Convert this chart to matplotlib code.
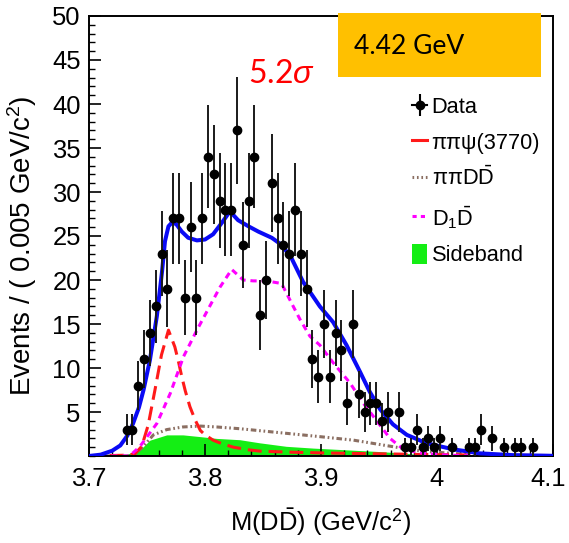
import numpy as np
import matplotlib
matplotlib.use("Agg")
import matplotlib.pyplot as plt
from matplotlib import font_manager as fm
from matplotlib.patches import Rectangle, Patch
from matplotlib.lines import Line2D
from matplotlib.legend_handler import HandlerTuple
from matplotlib.ticker import MultipleLocator, FixedLocator
from matplotlib.transforms import ScaledTranslation

# ---------------- data ----------------
data_mass = [3.7325, 3.7375, 3.7425, 3.7475, 3.7525, 3.7575, 3.7625, 3.7675, 3.7725, 3.7775,
             3.7825, 3.7875, 3.7925, 3.7975, 3.8025, 3.8075, 3.8125, 3.8175, 3.8225, 3.8275,
             3.8325, 3.8375, 3.8425, 3.8475, 3.8525, 3.8575, 3.8625, 3.8675, 3.8725, 3.8775,
             3.8825, 3.8875, 3.8925, 3.8975, 3.9025, 3.9075, 3.9125, 3.9175, 3.9225, 3.9275,
             3.9325, 3.9375, 3.9425, 3.9475, 3.9525, 3.9575, 3.9675, 3.9725, 3.9775, 3.9825,
             3.9875, 3.9925, 3.9975, 4.0025, 4.0125, 4.0275, 4.0325, 4.0375, 4.0475, 4.0575,
             4.0675, 4.0725, 4.0825]
data_counts = [3, 3, 8, 11, 14, 17, 23, 19, 27, 27,
               18, 26, 18, 27, 34, 32, 29, 28, 28, 37,
               24, 29, 34, 16, 20, 31, 27, 24, 23, 28,
               23, 19, 11, 9, 15, 9, 14, 12, 6, 15,
               7, 5, 6, 6, 4, 5, 5, 1, 1, 3,
               1, 2, 1, 2, 1, 1, 1, 3, 2, 1,
               1, 1, 1]

fit_mass = [3.700, 3.710, 3.720, 3.727, 3.733, 3.738, 3.743, 3.747, 3.7525, 3.7585, 3.763,
            3.7655, 3.7685, 3.772, 3.7755, 3.780, 3.7855, 3.793, 3.800, 3.807, 3.8145, 3.8215,
            3.8285, 3.8375, 3.846, 3.8575, 3.866, 3.8745, 3.8845, 3.899, 3.9105, 3.922, 3.9335,
            3.942, 3.951, 3.962, 3.974, 3.991, 4.014, 4.037, 4.065, 4.100]
fit_vals = [0.0, 0.15, 0.6, 1.2, 2.3, 3.7, 5.5, 7.5, 10.9, 15.9, 21.0,
            24.4, 26.1, 26.6, 26.3, 25.5, 24.8, 24.5, 24.6, 25.2, 26.5, 27.8,
            26.8, 26.1, 25.5, 24.8, 24.0, 22.5, 19.8, 17.0, 15.2, 12.6, 9.6,
            7.3, 5.3, 3.6, 2.4, 1.45, 0.76, 0.3, 0.1, 0.02]

psi_mass = [3.700, 3.735, 3.740, 3.7455, 3.751, 3.757, 3.7625, 3.7685, 3.774, 3.777, 3.780,
            3.783, 3.787, 3.7915, 3.796, 3.800, 3.807, 3.8145, 3.8245, 3.8375, 3.8475, 3.870,
            3.900, 3.950, 4.000, 4.100]
psi_vals = [0.0, 0.1, 0.3, 1.1, 3.5, 7.6, 11.5, 14.3, 12.4, 10.8, 9.0,
            7.4, 5.6, 4.1, 2.9, 2.4, 1.8, 1.4, 1.0, 0.7, 0.55, 0.45,
            0.35, 0.25, 0.15, 0.05]

pipidd_mass = [3.700, 3.738, 3.747, 3.7555, 3.767, 3.781, 3.796, 3.810, 3.830, 3.853, 3.876,
               3.899, 3.928, 3.951, 3.974, 3.991, 4.014, 4.037, 4.100]
pipidd_vals = [0.0, 0.0, 1.1, 2.4, 3.0, 3.3, 3.4, 3.3, 3.1, 2.8, 2.5,
               2.2, 1.8, 1.3, 0.8, 0.5, 0.3, 0.1, 0.0]

d1d_mass = [3.700, 3.735, 3.744, 3.7585, 3.770, 3.7815, 3.793, 3.804, 3.813, 3.823, 3.833,
            3.8415, 3.853, 3.866, 3.8745, 3.882, 3.8905, 3.899, 3.9105, 3.925, 3.9365, 3.948,
            3.9595, 3.971, 3.988, 4.008, 4.037, 4.100]
d1d_vals = [0.0, 0.0, 1.1, 3.7, 7.1, 11.3, 14.3, 17.0, 19.2, 21.2, 20.0,
            19.9, 19.9, 19.6, 17.4, 15.5, 13.6, 12.6, 10.6, 8.3, 6.0, 4.0,
            2.0, 0.76, 0.3, 0.1, 0.0, 0.0]

side_mass = [3.728, 3.744, 3.7525, 3.767, 3.781, 3.796, 3.810, 3.830, 3.847, 3.870, 3.893,
             3.922, 3.951, 3.974, 3.994]
side_vals = [0.0, 0.7, 1.8, 2.4, 2.4, 2.2, 2.0, 1.85, 1.5, 1.1, 0.9,
             0.7, 0.5, 0.3, 0.0]

x_ticks = [3.7, 3.8, 3.9, 4.0, 4.1]
x_ticklabels = ["3.7", "3.8", "3.9", "4", "4.1"]
y_ticks = [5, 10, 15, 20, 25, 30, 35, 40, 45, 50]

legend_labels = ["Data", "ππψ(3770)", r"ππD$\bar{\mathrm{D}}$", r"D$_{1}\bar{\mathrm{D}}$", "Sideband"]

# ---------------- fonts ----------------
names = {f.name for f in fm.fontManager.ttflist}
if "Liberation Sans Narrow" in names:
    NARROW = "Liberation Sans Narrow"
    k = 1.0
else:
    NARROW = "Liberation Sans"
    k = 0.92
plt.rcParams["font.family"] = [NARROW, "DejaVu Sans"]
plt.rcParams["mathtext.fontset"] = "custom"
plt.rcParams["mathtext.rm"] = NARROW
plt.rcParams["mathtext.it"] = NARROW + ":italic"
plt.rcParams["mathtext.bf"] = NARROW + ":bold"
plt.rcParams["lines.scale_dashes"] = False

fig = plt.figure(figsize=(5.69, 5.43), dpi=100)
W, H = 569, 543
L, R, T, B = 89, 553, 16, 456
ax = fig.add_axes([L / W, 1 - B / H, (R - L) / W, (B - T) / H])

# sideband fill
ax.fill_between(side_mass, 0, side_vals, color="#14ee14", lw=0, zorder=1)
# components
ax.plot(pipidd_mass, pipidd_vals, color="#8b6f62", lw=2.2, dashes=(4, 2, 1.2, 2, 1.2, 2), zorder=2)
ax.plot(psi_mass, psi_vals, color="#ff1a1a", lw=2.2, dashes=(10, 5), zorder=2)
ax.plot(d1d_mass, d1d_vals, color="#ff00ff", lw=2.2, dashes=(4.5, 3.5), zorder=2)
ax.plot(fit_mass, fit_vals, color="#0a0af5", lw=2.9, zorder=3)
# data
cnt = np.array(data_counts, dtype=float)
ax.errorbar(data_mass, cnt, yerr=np.sqrt(cnt), fmt="o", color="black", ms=6,
            ecolor="#1a1a1a", elinewidth=1.4, capsize=0, zorder=4)

ax.set_xlim(3.7, 4.1)
ax.set_ylim(0, 50)
ax.xaxis.set_major_locator(FixedLocator(x_ticks))
ax.set_xticklabels(x_ticklabels)
ax.xaxis.set_minor_locator(MultipleLocator(0.02))
ax.yaxis.set_major_locator(FixedLocator(y_ticks))
ax.yaxis.set_minor_locator(MultipleLocator(1))
ax.tick_params(which="major", direction="in", length=8.6, width=1.2, labelsize=20 * k)
ax.tick_params(which="minor", direction="in", length=4.6, width=1.0)
ax.tick_params(axis="x", which="major", pad=8)
ax.tick_params(axis="y", which="major", pad=6)
for s in ax.spines.values():
    s.set_linewidth(1.4)

# keep the last x tick label inside the picture
last = ax.xaxis.get_major_ticks()[-1].label1
last.set_transform(last.get_transform() + ScaledTranslation(-0.05, 0, fig.dpi_scale_trans))

ax.set_xlabel(r"M(D$\bar{\mathrm{D}}$) (GeV/c$^{2}$)", fontsize=20 * k)
ax.xaxis.set_label_coords(0.5, -0.115)
ax.set_ylabel(r"Events / ( 0.005 GeV/c$^{2}$)", fontsize=20, family=["Liberation Sans", "DejaVu Sans"])
ax.yaxis.set_label_coords(-0.108, 0.477)

# legend
h_data = (Line2D([], [], color="black", lw=1.5, marker="o", ms=6),
          Line2D([], [], color="black", marker="|", ms=16, mew=1.5, ls="none"))
h_psi = Line2D([], [], color="#ff1a1a", lw=2.2)
h_pp = Line2D([], [], color="#8b6f62", lw=2.2, dashes=(1.2, 2))
h_d1 = Line2D([], [], color="#ff00ff", lw=2.2, dashes=(3, 3))
h_sb = Patch(facecolor="#14ee14", edgecolor="none")
fig.legend([h_data, h_psi, h_pp, h_d1, h_sb], legend_labels,
           handler_map={tuple: HandlerTuple(ndivide=1)},
           loc="upper left", bbox_to_anchor=(412 / W, 1 - 96 / H),
           frameon=False, fontsize=17 * k, handlelength=0.7, handleheight=1.0,
           handletextpad=0.2, labelspacing=0.62, borderpad=0, borderaxespad=0)

# annotations
fig.patches.append(Rectangle((338 / W, 1 - 77 / H), 203 / W, 64 / H, transform=fig.transFigure,
                             facecolor="#ffc000", edgecolor="none", zorder=5))
fig.text(354 / W, 1 - 46 / H, "4.42 GeV", fontsize=19, family=["Lato", "DejaVu Sans"],
         ha="left", va="center", color="black", zorder=6)
fig.text(281 / W, 1 - 74 / H, r"5.2$\mathit{\sigma}$", fontsize=23, family=["Lato", "DejaVu Sans"],
         ha="center", va="center", color="#ff0000", zorder=6)

fig.savefig("out.png", dpi=100)
